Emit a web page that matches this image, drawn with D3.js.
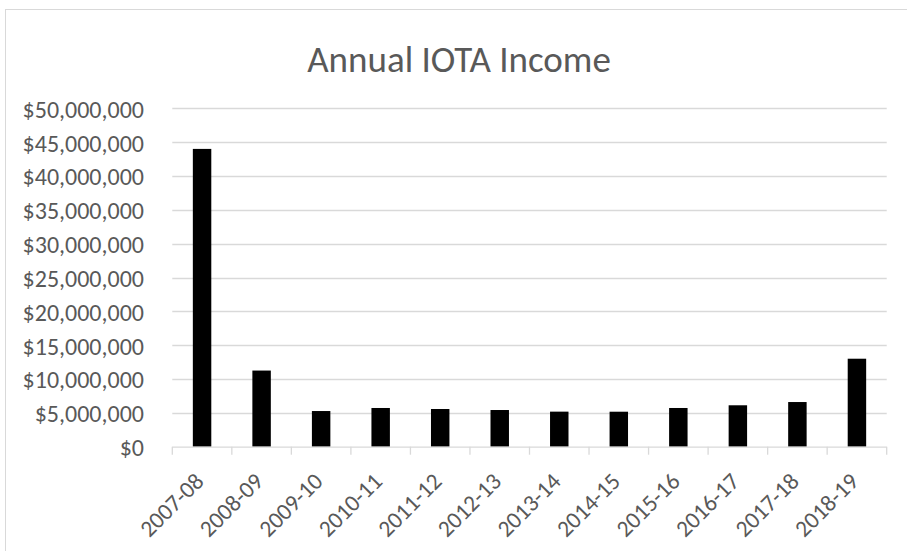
<!DOCTYPE html>
<html><head><meta charset="utf-8">
<script src="https://cdn.jsdelivr.net/npm/d3@7"></script>
<style>html,body{margin:0;padding:0;background:#fff;} svg{display:block;}</style>
</head><body>
<svg id="chart" width="907" height="551"></svg>
<script>
const categories = ["2007-08","2008-09","2009-10","2010-11","2011-12","2012-13","2013-14","2014-15","2015-16","2016-17","2017-18","2018-19"];
const income = [44000000,11250000,5270000,5720000,5570000,5420000,5180000,5170000,5720000,6120000,6600000,13000000];
const yTicks = [0,5000000,10000000,15000000,20000000,25000000,30000000,35000000,40000000,45000000,50000000];
const title = "Annual IOTA Income";

const svg = d3.select("#chart");
const font = "Carlito, Lato, 'Open Sans', sans-serif";
const m = {left:172.3, right:886.7, top:108.3, bottom:446.7};

// outer border
svg.append("rect").attr("x",5.5).attr("y",9.5).attr("width",920).attr("height",600)
  .attr("fill","none").attr("stroke","#d9d9d9").attr("stroke-width",1);

const x = d3.scaleBand().domain(categories).range([m.left,m.right]).paddingInner(0.69).paddingOuter(0.345);
const xb = d3.scaleBand().domain(categories).range([m.left,m.right]);
const y = d3.scaleLinear().domain([0,50000000]).range([m.bottom,m.top]);

// gridlines
svg.append("g").selectAll("line").data(yTicks.filter(d=>d>0)).join("line")
  .attr("x1",m.left).attr("x2",m.right)
  .attr("y1",d=>Math.round(y(d))+0.5).attr("y2",d=>Math.round(y(d))+0.5)
  .attr("stroke","#d9d9d9").attr("stroke-width",1.3);

// y labels
const fmt = d => "$" + d3.format(",")(d);
svg.append("g").selectAll("text").data(yTicks).join("text")
  .attr("x",144).attr("y",d=>y(d)+1).attr("dy","0.35em")
  .attr("text-anchor","end").attr("font-family",font).attr("font-size",24)
  .attr("fill","#595959").text(fmt);

// bars
svg.append("g").selectAll("rect").data(categories).join("rect")
  .attr("x",(d)=>x(d)).attr("width",x.bandwidth())
  .attr("y",(d,i)=>y(income[i])).attr("height",(d,i)=>y(0)-y(income[i]))
  .attr("fill","#000");

// x axis
const ax = svg.append("g");
ax.append("line").attr("x1",m.left).attr("x2",m.right).attr("y1",m.bottom+0.5).attr("y2",m.bottom+0.5)
  .attr("stroke","#d9d9d9").attr("stroke-width",1.3);
const bounds = categories.map(c=>xb(c)).concat([m.right]);
ax.selectAll("line.t").data(bounds).join("line").attr("class","t")
  .attr("x1",d=>d).attr("x2",d=>d).attr("y1",m.bottom).attr("y2",m.bottom+8)
  .attr("stroke","#d9d9d9").attr("stroke-width",1.3);
ax.selectAll("text").data(categories).join("text")
  .attr("transform",d=>`translate(${xb(d)+xb.bandwidth()/2+3},${m.bottom+36}) rotate(-45)`)
  .attr("text-anchor","end").attr("font-family",font).attr("font-size",23.5)
  .attr("fill","#595959").text(d=>d);

// title
svg.append("text").attr("x",459).attr("y",72).attr("text-anchor","middle")
  .attr("font-family",font).attr("font-size",37)
  .attr("fill","#595959").text(title);
</script>
</body></html>
